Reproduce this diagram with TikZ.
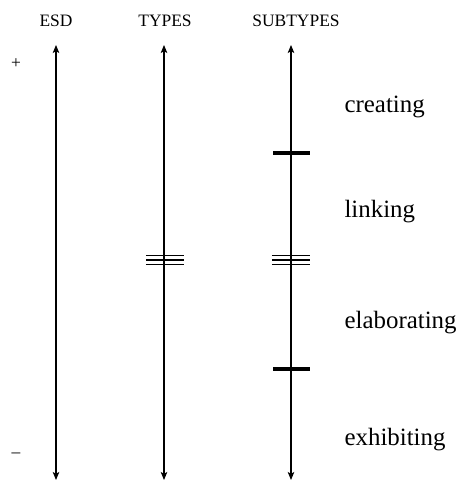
\documentclass[tikz,border=0pt]{standalone}
\usepackage{fontspec}
\setmainfont{Liberation Serif}
\usepackage{tikz}
\usetikzlibrary{arrows.meta,positioning}
\tikzset{
  every picture/.style = {
    line width = 1.1bp,
    >={Stealth[length=8bp, width=6.5bp, inset=1.8bp]},
    x = 1bp,
    y = -1bp
  }
  ,
  header/.style = {
    font = \fontsize{17.5}{21}\selectfont,
    inner sep = 0pt,
    anchor = base
  }
  , % names of the subtypes
  label-sub/.style = {
    font = \fontsize{25}{30}\selectfont,
    inner sep = 0pt,
    anchor = base west
  }
  , % boundaries on the axes
  bar/.style = {
    rectangle,
    fill = black,
    inner sep = 0pt,
    minimum width = 37bp,
    minimum height = 3.6bp
  }
  ,
  tribar/.style = {
    rectangle,
    inner sep = 0pt,
    minimum width = 37bp,
    minimum height = 7.5bp
  }
}

\begin{document}
\begin{tikzpicture}
\useasboundingbox (0,0) rectangle (462,482);
\coordinate (esd-top) at (56,45);
\coordinate (esd-bot) at (56,480);
\coordinate (types-top) at (164,45);
\coordinate (types-bot) at (164,480);
\coordinate (sub-top) at (291,45);
\coordinate (sub-bot) at (291,480);

\node [header] (esd) at (56,27) {ESD};
\node [header] (types) at (165,27) {TYPES};
\node [header] (subtypes) at (296,27) {SUBTYPES};
\node [header, anchor=center] (plus) at (16,64) {+};
\node [header, anchor=center] (minus) at (16,455) {–};

\draw [<->] (esd-top) -- (esd-bot);
\draw [<->] (types-top) -- (types-bot);
\draw [<->] (sub-top) -- (sub-bot);

\node [bar] (cut-1) at (291,153) {};
\node [tribar] (types-cut) at (165,260) {};
\node [tribar] (sub-cut) at (291,260) {};
\node [bar] (cut-3) at (291,369) {};
\foreach \n in {types-cut, sub-cut} {
  \draw [line width=1.2bp] (\n.north west) -- (\n.north east);
  \draw [line width=2.2bp] (\n.west) -- (\n.east);
  \draw [line width=1.2bp] (\n.south west) -- (\n.south east);
}

\node [label-sub] (creating) at (344,113) {creating};
\node [label-sub] (linking) at (344,217) {linking};
\node [label-sub] (elaborating) at (344,328) {elaborating};
\node [label-sub] (exhibiting) at (344,445) {exhibiting};
\end{tikzpicture}
\end{document}
